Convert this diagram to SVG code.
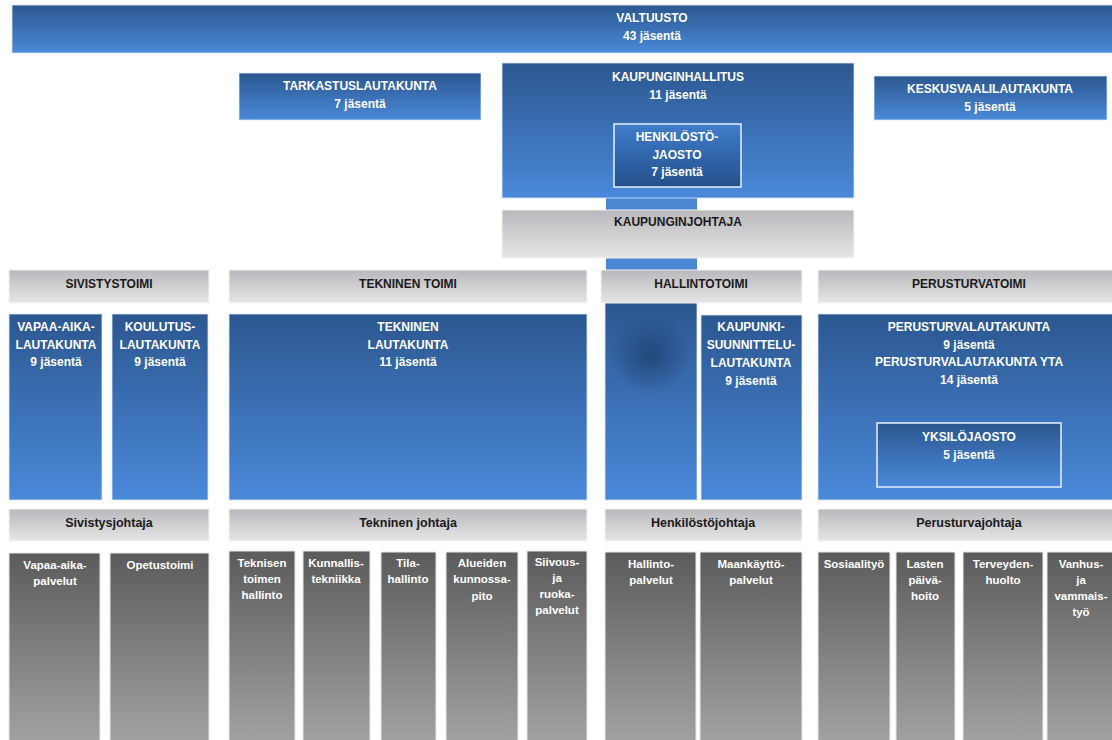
<svg xmlns="http://www.w3.org/2000/svg" width="1112" height="740" viewBox="0 0 1112 740">
<defs>
<linearGradient id="gBlue" x1="0" y1="0" x2="0" y2="1"><stop offset="0" stop-color="#2c5790"/><stop offset="1" stop-color="#4a89da"/></linearGradient>
<linearGradient id="gBlueInv" x1="0" y1="0" x2="0" y2="1"><stop offset="0" stop-color="#3f7dcc"/><stop offset="1" stop-color="#24508b"/></linearGradient>
<linearGradient id="gGrayHead" x1="0" y1="0" x2="0" y2="1"><stop offset="0" stop-color="#b9b9bd"/><stop offset="1" stop-color="#e6e6e8"/></linearGradient>
<linearGradient id="gGrayCol" x1="0" y1="0" x2="0" y2="1"><stop offset="0" stop-color="#5b5b5b"/><stop offset="1" stop-color="#a3a3a3"/></linearGradient>
<radialGradient id="gBlob" cx="0.5" cy="0.5" r="0.5"><stop offset="0" stop-color="#1e3f6e" stop-opacity="0.75"/><stop offset="1" stop-color="#1e3f6e" stop-opacity="0"/></radialGradient>
<style>
.blue{fill:url(#gBlue);stroke:#dbe8f7;stroke-width:0.8}
.inner{fill:url(#gBlueInv);stroke:#e6f0fb;stroke-width:1.5}
.inner2{fill:url(#gBlue);stroke:#e6f0fb;stroke-width:1.5}
.head{fill:url(#gGrayHead);stroke:#f4f4f4;stroke-width:1}
.col{fill:url(#gGrayCol);stroke:#e8e8e8;stroke-width:1}
.bar{fill:#4a86d2}
text{font-family:"Liberation Sans",Arial,sans-serif;font-weight:bold;text-anchor:middle}
.w{fill:#ffffff;font-size:12px}
.d{fill:#1a1a1a;font-size:12px}
.dl{fill:#1a1a1a;font-size:12.5px}
.s{fill:#ffffff;font-size:11.5px}
</style>
</defs>
<rect width="1112" height="740" fill="#ffffff"/>

<g id="connectors">
<rect class="bar" x="606" y="196" width="91" height="16"/>
<rect class="bar" x="606" y="256" width="91" height="16"/>
<rect class="blue" x="605" y="302" width="92" height="198"/>
<ellipse cx="650" cy="355" rx="40" ry="40" fill="url(#gBlob)"/>
</g>

<g id="valtuusto">
<rect class="blue" x="12" y="5" width="1104" height="48"/>
<text class="w" x="652" y="22">VALTUUSTO</text>
<text class="w" x="652" y="40">43 jäsentä</text>
</g>

<g id="tarkastuslautakunta">
<rect class="blue" x="239" y="73" width="242" height="47"/>
<text class="w" x="360" y="90">TARKASTUSLAUTAKUNTA</text>
<text class="w" x="360" y="108">7 jäsentä</text>
</g>

<g id="kaupunginhallitus">
<rect class="blue" x="502" y="63" width="352" height="135"/>
<text class="w" x="678" y="81">KAUPUNGINHALLITUS</text>
<text class="w" x="678" y="99">11 jäsentä</text>
</g>

<g id="henkilostojaosto">
<rect class="inner" x="614" y="124" width="127" height="63"/>
<text class="w" x="677" y="141">HENKILÖSTÖ-</text>
<text class="w" x="677" y="159">JAOSTO</text>
<text class="w" x="677" y="176">7 jäsentä</text>
</g>

<g id="keskusvaalilautakunta">
<rect class="blue" x="874" y="76" width="233" height="44"/>
<text class="w" x="990" y="93">KESKUSVAALILAUTAKUNTA</text>
<text class="w" x="990" y="111">5 jäsentä</text>
</g>

<g id="kaupunginjohtaja">
<rect class="head" x="502" y="210" width="352" height="48"/>
<text class="d" x="678" y="226">KAUPUNGINJOHTAJA</text>
</g>

<g id="sivistystoimi">
<rect class="head" x="9" y="270" width="200" height="33"/>
<text class="d" x="109" y="288">SIVISTYSTOIMI</text>
</g>
<g id="tekninen-toimi">
<rect class="head" x="229" y="270" width="358" height="33"/>
<text class="d" x="408" y="288">TEKNINEN TOIMI</text>
</g>
<g id="hallintotoimi">
<rect class="head" x="601" y="270" width="201" height="33"/>
<text class="d" x="701" y="288">HALLINTOTOIMI</text>
</g>
<g id="perusturvatoimi">
<rect class="head" x="818" y="270" width="298" height="33"/>
<text class="d" x="969" y="288">PERUSTURVATOIMI</text>
</g>

<g id="vapaa-aikalautakunta">
<rect class="blue" x="9" y="314" width="93" height="186"/>
<text class="w" x="56" y="331">VAPAA-AIKA-</text>
<text class="w" x="56" y="349">LAUTAKUNTA</text>
<text class="w" x="56" y="366">9 jäsentä</text>
</g>
<g id="koulutuslautakunta">
<rect class="blue" x="112" y="314" width="96" height="186"/>
<text class="w" x="160" y="331">KOULUTUS-</text>
<text class="w" x="160" y="349">LAUTAKUNTA</text>
<text class="w" x="160" y="366">9 jäsentä</text>
</g>
<g id="tekninen-lautakunta">
<rect class="blue" x="229" y="314" width="358" height="186"/>
<text class="w" x="408" y="331">TEKNINEN</text>
<text class="w" x="408" y="349">LAUTAKUNTA</text>
<text class="w" x="408" y="366">11 jäsentä</text>
</g>
<g id="kaupunkisuunnittelulautakunta">
<rect class="blue" x="701" y="315" width="101" height="185"/>
<text class="w" x="751" y="331">KAUPUNKI-</text>
<text class="w" x="751" y="349">SUUNNITTELU-</text>
<text class="w" x="751" y="367">LAUTAKUNTA</text>
<text class="w" x="751" y="385">9 jäsentä</text>
</g>
<g id="perusturvalautakunta">
<rect class="blue" x="818" y="314" width="298" height="186"/>
<text class="w" x="969" y="331">PERUSTURVALAUTAKUNTA</text>
<text class="w" x="969" y="349">9 jäsentä</text>
<text class="w" x="969" y="366">PERUSTURVALAUTAKUNTA YTA</text>
<text class="w" x="969" y="384">14 jäsentä</text>
</g>
<g id="yksilojaosto">
<rect class="inner2" x="877" y="423" width="184" height="64"/>
<text class="w" x="969" y="441">YKSILÖJAOSTO</text>
<text class="w" x="969" y="459">5 jäsentä</text>
</g>

<g id="sivistysjohtaja">
<rect class="head" x="9" y="509" width="200" height="32"/>
<text class="dl" x="109" y="527">Sivistysjohtaja</text>
</g>
<g id="tekninen-johtaja">
<rect class="head" x="229" y="509" width="358" height="32"/>
<text class="dl" x="408" y="527">Tekninen johtaja</text>
</g>
<g id="henkilostojohtaja">
<rect class="head" x="605" y="509" width="197" height="32"/>
<text class="dl" x="703" y="527">Henkilöstöjohtaja</text>
</g>
<g id="perusturvajohtaja">
<rect class="head" x="818" y="509" width="298" height="32"/>
<text class="dl" x="969" y="527">Perusturvajohtaja</text>
</g>

<g id="vapaa-aikapalvelut">
<rect class="col" x="9" y="553" width="91" height="192"/>
<text class="s" x="55" y="569">Vapaa-aika-</text>
<text class="s" x="55" y="585">palvelut</text>
</g>
<g id="opetustoimi">
<rect class="col" x="110" y="553" width="99" height="192"/>
<text class="s" x="160" y="569">Opetustoimi</text>
</g>
<g id="teknisen-toimen-hallinto">
<rect class="col" x="229" y="551" width="66" height="194"/>
<text class="s" x="262" y="567">Teknisen</text>
<text class="s" x="262" y="583">toimen</text>
<text class="s" x="262" y="599">hallinto</text>
</g>
<g id="kunnallistekniikka">
<rect class="col" x="303" y="551" width="67" height="194"/>
<text class="s" x="336" y="567">Kunnallis-</text>
<text class="s" x="336" y="583">tekniikka</text>
</g>
<g id="tilahallinto">
<rect class="col" x="381" y="552" width="55" height="193"/>
<text class="s" x="408" y="567">Tila-</text>
<text class="s" x="408" y="583">hallinto</text>
</g>
<g id="alueiden-kunnossapito">
<rect class="col" x="446" y="552" width="72" height="193"/>
<text class="s" x="482" y="567">Alueiden</text>
<text class="s" x="482" y="583">kunnossa-</text>
<text class="s" x="482" y="600">pito</text>
</g>
<g id="siivous-ja-ruokapalvelut">
<rect class="col" x="527" y="551" width="60" height="194"/>
<text class="s" x="557" y="566">Siivous-</text>
<text class="s" x="557" y="582">ja</text>
<text class="s" x="557" y="598">ruoka-</text>
<text class="s" x="557" y="614">palvelut</text>
</g>
<g id="hallintopalvelut">
<rect class="col" x="605" y="552" width="91" height="193"/>
<text class="s" x="651" y="568">Hallinto-</text>
<text class="s" x="651" y="584">palvelut</text>
</g>
<g id="maankayttopalvelut">
<rect class="col" x="700" y="552" width="102" height="193"/>
<text class="s" x="751" y="568">Maankäyttö-</text>
<text class="s" x="751" y="584">palvelut</text>
</g>
<g id="sosiaalityo">
<rect class="col" x="818" y="552" width="72" height="193"/>
<text class="s" x="854" y="568">Sosiaalityö</text>
</g>
<g id="lasten-paivahoito">
<rect class="col" x="896" y="552" width="59" height="193"/>
<text class="s" x="925" y="568">Lasten</text>
<text class="s" x="925" y="584">päivä-</text>
<text class="s" x="925" y="600">hoito</text>
</g>
<g id="terveydenhuolto">
<rect class="col" x="963" y="552" width="80" height="193"/>
<text class="s" x="1003" y="568">Terveyden-</text>
<text class="s" x="1003" y="584">huolto</text>
</g>
<g id="vanhus-ja-vammaistyo">
<rect class="col" x="1047" y="552" width="70" height="193"/>
<text class="s" x="1081" y="568">Vanhus-</text>
<text class="s" x="1081" y="584">ja</text>
<text class="s" x="1081" y="600">vammais-</text>
<text class="s" x="1081" y="616">työ</text>
</g>
</svg>
